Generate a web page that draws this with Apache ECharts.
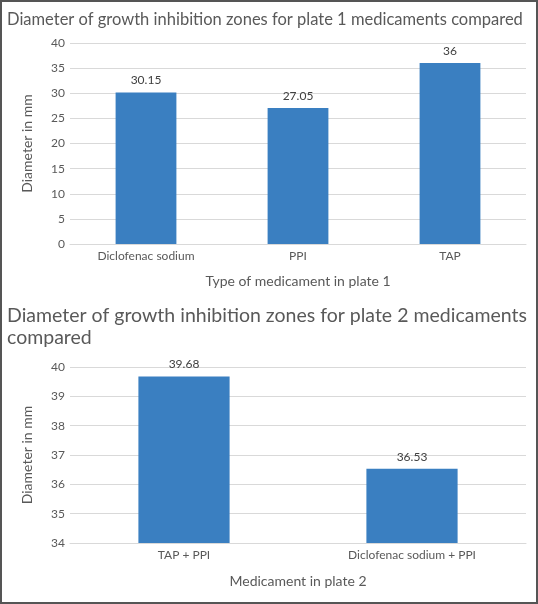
<!DOCTYPE html>
<html><head><meta charset="utf-8">
<script src="https://cdn.jsdelivr.net/npm/echarts@6/dist/echarts.min.js"></script>
<style>html,body{margin:0;padding:0;background:#fff}#c{width:538px;height:604px}</style>
</head><body><div id="c"></div>
<script>
const categories1 = ['Diclofenac sodium', 'PPI', 'TAP'];
const values1 = [30.15, 27.05, 36];
const categories2 = ['TAP + PPI', 'Diclofenac sodium + PPI'];
const values2 = [39.68, 36.53];
const title1 = 'Diameter of growth inhibition zones for plate 1 medicaments compared';
const title2 = 'Diameter of growth inhibition zones for plate 2 medicaments\ncompared';
const xName1 = 'Type of medicament in plate 1';
const xName2 = 'Medicament in plate 2';
const yName = 'Diameter in mm';

const F = 'Lato, "Open Sans", sans-serif';
const txt = '#595959';
const chart = echarts.init(document.getElementById('c'), null, {renderer: 'canvas'});
const xAxisBase = {
  type: 'category',
  axisLine: {lineStyle: {color: '#d9d9d9'}},
  axisTick: {show: false},
  axisLabel: {color: txt, fontFamily: F, fontSize: 12, margin: 6},
  nameLocation: 'middle',
  nameTextStyle: {color: txt, fontFamily: F, fontSize: 14}
};
const yAxisBase = {
  type: 'value',
  axisLine: {show: false},
  axisTick: {show: false},
  splitLine: {lineStyle: {color: '#d9d9d9'}},
  axisLabel: {color: txt, fontFamily: F, fontSize: 12, margin: 5},
  name: yName,
  nameLocation: 'middle',
  nameTextStyle: {color: txt, fontFamily: F, fontSize: 14}
};
const labelStyle = {show: true, position: 'top', color: '#404040', fontFamily: F, fontSize: 12, distance: 6};
chart.setOption({
  animation: false,
  title: [
    {text: title1, left: 2, top: 6, textStyle: {color: txt, fontFamily: F, fontSize: 16.5, fontWeight: 'normal'}},
    {text: title2, left: 2, top: 300, textStyle: {color: txt, fontFamily: F, fontSize: 19.5, fontWeight: 'normal', lineHeight: 22}}
  ],
  graphic: [
    {type: 'rect', shape: {x: 1, y: 1, width: 536, height: 602}, style: {fill: null, stroke: '#555', lineWidth: 2}, silent: true}
  ],
  grid: [
    {left: 70, right: 12, top: 43, height: 201},
    {left: 70, right: 12, top: 367, height: 176}
  ],
  xAxis: [
    Object.assign({}, xAxisBase, {gridIndex: 0, data: categories1, name: xName1, nameGap: 30}),
    Object.assign({}, xAxisBase, {gridIndex: 1, data: categories2, name: xName2, nameGap: 31})
  ],
  yAxis: [
    Object.assign({}, yAxisBase, {gridIndex: 0, min: 0, max: 40, interval: 5, nameGap: 36}),
    Object.assign({}, yAxisBase, {gridIndex: 1, min: 34, max: 40, interval: 1, nameGap: 36})
  ],
  series: [
    {type: 'bar', xAxisIndex: 0, yAxisIndex: 0, data: values1, barWidth: '40%',
     itemStyle: {color: '#3a7fc1'}, label: labelStyle},
    {type: 'bar', xAxisIndex: 1, yAxisIndex: 1, data: values2, barWidth: '40%',
     itemStyle: {color: '#3a7fc1'}, label: labelStyle}
  ]
});
</script></body></html>
